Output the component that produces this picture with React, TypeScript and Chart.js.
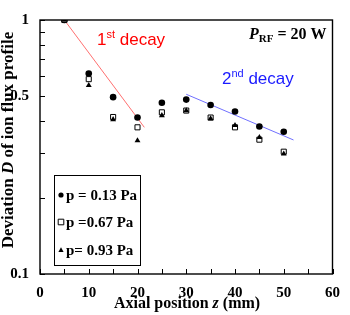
import React, { useEffect, useRef } from "react";
import { Chart, registerables } from "chart.js";

Chart.register(...registerables);

// Axial positions (mm)
const Z = [5, 10, 15, 20, 25, 30, 35, 40, 45, 50];
// Deviation D for each pressure
const D_013 = [1.0, 0.616, 0.497, 0.413, 0.472, 0.486, 0.463, 0.436, 0.381, 0.363];
const D_067 = [1.0, 0.585, 0.415, 0.378, 0.433, 0.440, 0.413, 0.378, 0.338, 0.303];
const D_093 = [1.0, 0.553, 0.406, 0.335, 0.421, 0.440, 0.409, 0.385, 0.345, 0.297];
const SERIES_LABELS = ["p = 0.13 Pa", "p =0.67 Pa", "p= 0.93 Pa"];

// Decay fit lines
const DECAY1_Z = [5, 21.4];
const DECAY1_D = [1.0, 0.378];
const DECAY2_Z = [30, 52];
const DECAY2_D = [0.51, 0.337];

// Axis ticks
const X_TICKS = [0, 5, 10, 15, 20, 25, 30, 35, 40, 45, 50, 55, 60];
const X_LABELS = ["0", "", "10", "", "20", "", "30", "", "40", "", "50", "", "60"];
const Y_TICKS = [0.1, 0.2, 0.3, 0.4, 0.5, 0.6, 0.7, 0.8, 0.9, 1];
const Y_LABELS = ["0.1", "", "", "", "0.5", "", "", "", "", "1"];

const SERIF = "'Liberation Serif', 'Times New Roman', serif";
const SANS = "'Liberation Sans', Arial, sans-serif";

function pts(xs: number[], ys: number[]) {
  return xs.map((x, i) => ({ x, y: ys[i] }));
}

function drawMarker(ctx: CanvasRenderingContext2D, style: string, x: number, y: number, r: number) {
  ctx.save();
  ctx.lineWidth = 1;
  ctx.strokeStyle = "#000";
  ctx.fillStyle = "#000";
  ctx.beginPath();
  if (style === "circle") {
    ctx.arc(x, y, r, 0, Math.PI * 2);
    ctx.fill();
  } else if (style === "rect") {
    ctx.fillStyle = "#fff";
    ctx.rect(x - r, y - r, r * 2, r * 2);
    ctx.fill();
    ctx.stroke();
  } else {
    ctx.moveTo(x, y - r * 1.1);
    ctx.lineTo(x + r, y + r * 0.8);
    ctx.lineTo(x - r, y + r * 0.8);
    ctx.closePath();
    ctx.fill();
  }
  ctx.restore();
}

const decorPlugin = {
  id: "decor",
  afterDraw(chart: any) {
    const ctx: CanvasRenderingContext2D = chart.ctx;
    const area = chart.chartArea;
    const xs = chart.scales.x;
    const ys = chart.scales.y;
    ctx.save();
    // frame
    ctx.strokeStyle = "#000";
    ctx.lineWidth = 1.4;
    ctx.strokeRect(area.left, area.top, area.right - area.left, area.bottom - area.top);
    // inner ticks
    ctx.lineWidth = 1;
    ctx.beginPath();
    for (const v of X_TICKS) {
      const px = Math.round(xs.getPixelForValue(v)) + 0.5;
      ctx.moveTo(px, area.bottom);
      ctx.lineTo(px, area.bottom - 5);
    }
    for (const v of Y_TICKS) {
      const py = Math.round(ys.getPixelForValue(v)) + 0.5;
      ctx.moveTo(area.left, py);
      ctx.lineTo(area.left + 5, py);
    }
    ctx.stroke();

    // axis titles
    ctx.fillStyle = "#000";
    ctx.textBaseline = "middle";
    const b = `bold 16px ${SERIF}`;
    const bi = `italic bold 16px ${SERIF}`;
    const drawRich = (parts: [string, string][], cx: number, cy: number) => {
      let w = 0;
      for (const [f, t] of parts) { ctx.font = f; w += ctx.measureText(t).width; }
      let x = cx - w / 2;
      ctx.textAlign = "left";
      for (const [f, t] of parts) { ctx.font = f; ctx.fillText(t, x, cy); x += ctx.measureText(t).width; }
    };
    drawRich([[b, "Axial position "], [bi, "z"], [b, " (mm)"]], 187, 304);
    ctx.save();
    ctx.translate(9, 140);
    ctx.rotate(-Math.PI / 2);
    const b17 = `bold 17px ${SERIF}`;
    const bi17 = `italic bold 17px ${SERIF}`;
    drawRich([[b17, "Deviation "], [bi17, "D"], [b17, " of ion flux profile"]], 0, 0);
    ctx.restore();

    // P_RF = 20 W
    ctx.textAlign = "left";
    ctx.textBaseline = "alphabetic";
    let x = 249;
    const by = 39;
    ctx.font = bi;
    ctx.fillText("P", x, by);
    x += ctx.measureText("P").width;
    ctx.font = `bold 11px ${SERIF}`;
    ctx.fillText("RF", x, by + 3);
    x += ctx.measureText("RF").width;
    ctx.font = b;
    ctx.fillText(" = 20 W", x, by);

    // decay labels
    const sup = (base: string, s: string, rest: string, x0: number, y0: number, color: string) => {
      ctx.fillStyle = color;
      let xx = x0;
      ctx.font = `17px ${SANS}`;
      ctx.fillText(base, xx, y0);
      xx += ctx.measureText(base).width;
      ctx.font = `11px ${SANS}`;
      ctx.fillText(s, xx, y0 - 7);
      xx += ctx.measureText(s).width;
      ctx.font = `17px ${SANS}`;
      ctx.fillText(rest, xx, y0);
    };
    sup("1", "st", " decay", 97, 45, "#ff0000");
    sup("2", "nd", " decay", 222, 84, "#1a1aff");

    // legend
    const lx = 54, ly = 175, lw = 86, lh = 90;
    ctx.fillStyle = "#fff";
    ctx.fillRect(lx, ly, lw, lh);
    ctx.strokeStyle = "#000";
    ctx.lineWidth = 1;
    ctx.strokeRect(lx + 0.5, ly + 0.5, lw, lh);
    const styles = ["circle", "rect", "triangle"];
    const rowY = [195, 222, 250];
    ctx.textBaseline = "middle";
    SERIES_LABELS.forEach((lab, i) => {
      drawMarker(ctx, styles[i], 61, rowY[i], i === 1 ? 2.8 : 2.6);
      ctx.fillStyle = "#000";
      ctx.font = `bold 15px ${SERIF}`;
      ctx.fillText(lab, 66, rowY[i] + 1);
    });
    ctx.restore();
  },
};

export default function App() {
  const ref = useRef<HTMLCanvasElement | null>(null);
  useEffect(() => {
    if (!ref.current) return;
    const chart = new Chart(ref.current, {
      type: "scatter",
      data: {
        datasets: [
          {
            label: SERIES_LABELS[0],
            data: pts(Z, D_013),
            pointStyle: "circle",
            pointRadius: 3.3,
            backgroundColor: "#000",
            borderColor: "#000",
            borderWidth: 0,
            order: 2,
          },
          {
            label: SERIES_LABELS[1],
            data: pts(Z, D_067),
            pointStyle: "rect",
            pointRadius: 3.6,
            backgroundColor: "#fff",
            borderColor: "#000",
            borderWidth: 1,
            order: 1,
          },
          {
            label: SERIES_LABELS[2],
            data: pts(Z, D_093),
            pointStyle: "triangle",
            pointRadius: 3.4,
            backgroundColor: "#000",
            borderColor: "#000",
            borderWidth: 0,
            order: 0,
          },
          {
            label: "1st decay",
            data: pts(DECAY1_Z, DECAY1_D),
            showLine: true,
            pointRadius: 0,
            borderColor: "#ff7070",
            borderWidth: 1,
            order: 3,
          },
          {
            label: "2nd decay",
            data: pts(DECAY2_Z, DECAY2_D),
            showLine: true,
            pointRadius: 0,
            borderColor: "#7070ff",
            borderWidth: 1,
            order: 3,
          },
        ] as any,
      },
      options: {
        animation: false,
        responsive: false,
        maintainAspectRatio: false,
        layout: { padding: { top: 6, right: 9, left: 0, bottom: 0 } },
        plugins: { legend: { display: false }, tooltip: { enabled: false } },
        scales: {
          x: {
            type: "linear",
            min: 0,
            max: 60,
            afterBuildTicks: (s: any) => { s.ticks = X_TICKS.map((v) => ({ value: v })); },
            afterFit: (s: any) => { s.height = 41; },
            grid: { display: false, drawTicks: false },
            border: { display: false },
            ticks: {
              autoSkip: false,
              maxRotation: 0,
              padding: 10,
              color: "#000",
              font: { family: SERIF, size: 15, weight: "bold" },
              callback: (v: any) => { const i = X_TICKS.indexOf(Number(v)); return i >= 0 ? X_LABELS[i] : ""; },
            },
          },
          y: {
            type: "logarithmic",
            min: 0.1,
            max: 1,
            afterBuildTicks: (s: any) => { s.ticks = Y_TICKS.map((v) => ({ value: v })); },
            afterFit: (s: any) => { s.width = 40; },
            grid: { display: false, drawTicks: false },
            border: { display: false },
            ticks: {
              autoSkip: false,
              padding: 11,
              color: "#000",
              font: { family: SERIF, size: 15, weight: "bold" },
              callback: (v: any) => {
                const i = Y_TICKS.findIndex((t) => Math.abs(t - Number(v)) < 1e-9);
                return i >= 0 ? Y_LABELS[i] : "";
              },
            },
          },
        },
      } as any,
      plugins: [decorPlugin],
    });
    return () => chart.destroy();
  }, []);
  return (
    <div style={{ position: "fixed", left: 0, top: 0, width: 350, height: 315, background: "#fff" }}>
      <canvas ref={ref} width={350} height={315} style={{ width: 350, height: 315 }} />
    </div>
  );
}
